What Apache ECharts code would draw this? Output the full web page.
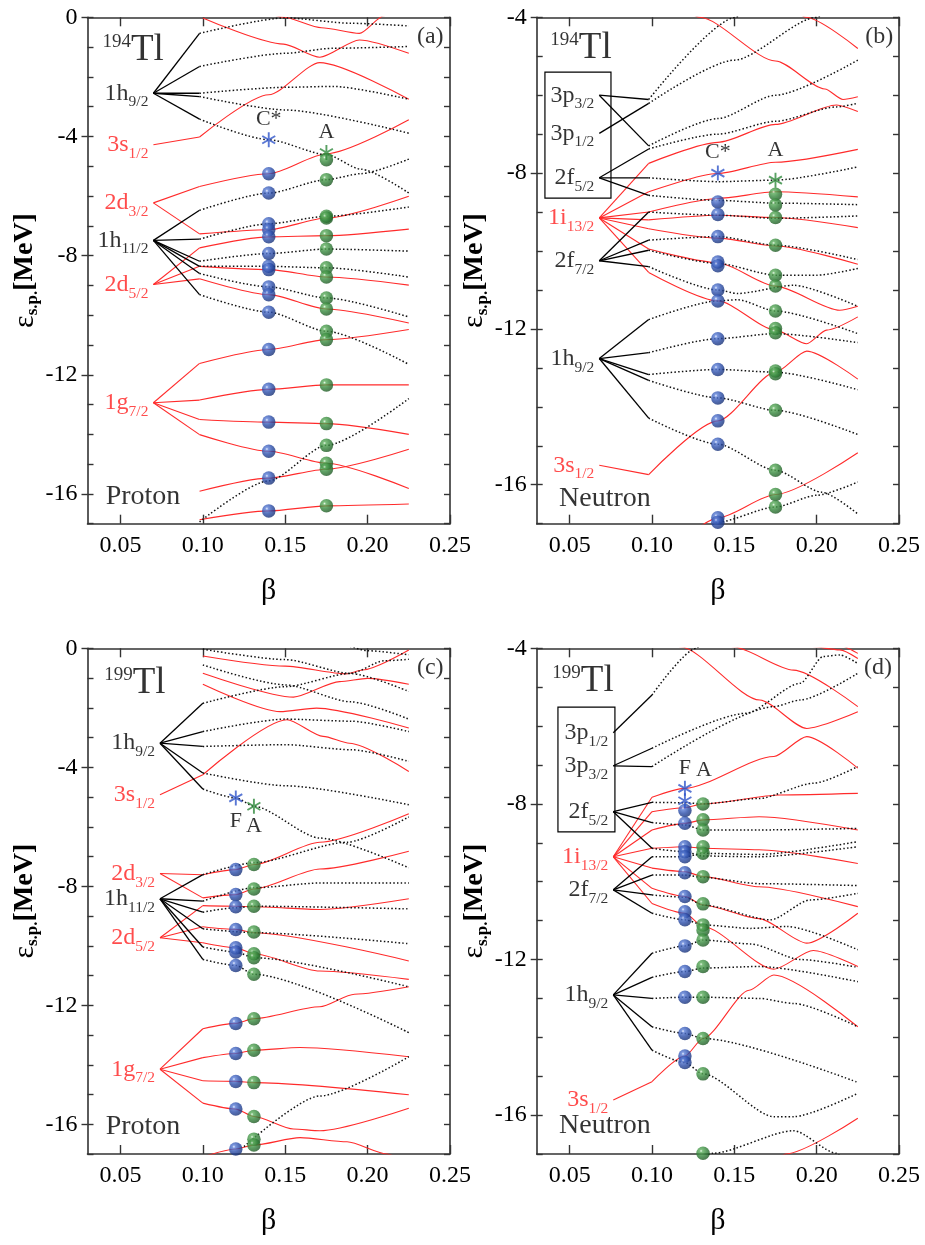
<!DOCTYPE html>
<html>
<head>
<meta charset="utf-8">
<script src="https://cdn.jsdelivr.net/npm/echarts@6/dist/echarts.min.js"></script>
<style>
html,body{margin:0;padding:0;background:#fff;}
#chart{width:925px;height:1245px;}
</style>
</head>
<body>
<div id="chart"></div>
<script>
// ---------------- axis ticks ----------------
const xTicks = [0.05, 0.10, 0.15, 0.20, 0.25];
const yTicksProton = [0, -4, -8, -12, -16];
const yTicksNeutron = [-4, -8, -12, -16];

// ---------------- (a) 194Tl, protons ----------------
const a_ballBeta = [0.14, 0.175];
const a_anchor = 0.07;
const a_levels = ['1h9/2', '3s1/2', '2d3/2', '1h11/2', '2d5/2', '1g7/2'];
const a_levelE = [-2.55, -4.28, -6.23, -7.49, -8.97, -12.94];
const a_pos = [
  [[0.07,-4.28],[0.098,-4.02],[0.14,-2.6],[0.171,-1.52],[0.225,-2.75]],
  [[0.1,-0.02],[0.149,-0.9],[0.171,-1.34],[0.195,-0.76],[0.225,-1.21]],
  [[0.13,0.45],[0.149,0.0],[0.172,-0.35],[0.195,-0.54],[0.21,0.05],[0.215,0.3]],
  [[0.07,-6.23],[0.098,-5.68],[0.14,-5.25],[0.175,-4.58],[0.225,-3.44]],
  [[0.07,-6.23],[0.098,-7.27],[0.14,-7.13],[0.175,-6.74],[0.225,-6.01]],
  [[0.07,-8.97],[0.098,-7.74],[0.14,-7.37],[0.175,-7.33],[0.225,-7.11]],
  [[0.07,-8.97],[0.098,-8.36],[0.14,-8.47],[0.175,-8.72],[0.225,-8.99]],
  [[0.07,-8.97],[0.098,-8.78],[0.14,-9.31],[0.175,-9.79],[0.225,-10.26]],
  [[0.07,-12.94],[0.098,-11.62],[0.14,-11.15],[0.175,-10.82],[0.225,-10.48]],
  [[0.07,-12.94],[0.098,-12.85],[0.14,-12.49],[0.175,-12.34],[0.225,-12.34]],
  [[0.07,-12.94],[0.098,-13.50],[0.14,-13.59],[0.175,-13.64],[0.225,-14.0]],
  [[0.07,-12.94],[0.098,-14.01],[0.14,-14.57],[0.175,-14.97],[0.225,-15.82]],
  [[0.098,-15.91],[0.14,-15.47],[0.175,-15.17],[0.225,-14.50]],
  [[0.098,-16.87],[0.14,-16.57],[0.175,-16.40],[0.225,-16.34]]
];
const a_neg = [
  [[0.07,-2.55],[0.098,-0.54],[0.15,-0.02],[0.19,-0.2],[0.225,-0.29]],
  [[0.07,-2.55],[0.098,-1.65],[0.15,-1.21],[0.179,-1.04],[0.225,-0.98]],
  [[0.07,-2.55],[0.098,-2.55],[0.15,-2.35],[0.179,-2.32],[0.225,-2.75]],
  [[0.07,-2.55],[0.098,-2.66],[0.15,-3.11],[0.225,-3.89]],
  [[0.07,-2.55],[0.098,-3.42],[0.14,-4.11],[0.175,-4.61],[0.196,-5.10],[0.225,-5.90]],
  [[0.07,-7.49],[0.098,-6.48],[0.14,-5.90],[0.175,-5.45],[0.196,-5.25],[0.225,-4.76]],
  [[0.07,-7.49],[0.098,-7.45],[0.14,-6.93],[0.175,-6.68],[0.225,-6.37]],
  [[0.07,-7.49],[0.098,-8.19],[0.14,-7.93],[0.175,-7.78],[0.225,-7.85]],
  [[0.07,-7.49],[0.098,-8.36],[0.14,-8.36],[0.175,-8.41],[0.225,-8.72]],
  [[0.07,-7.49],[0.098,-8.60],[0.14,-9.05],[0.175,-9.42],[0.225,-10.06]],
  [[0.07,-7.49],[0.098,-9.31],[0.14,-9.90],[0.175,-10.54],[0.225,-11.65]],
  [[0.098,-16.94],[0.14,-15.56],[0.175,-14.37],[0.225,-12.80]]
];
const a_blue = [-5.25,-5.90,-6.93,-7.13,-7.37,-7.93,-8.36,-8.47,-9.05,-9.31,-9.90,-11.15,-12.49,-13.59,-14.57,-15.47,-16.57];
const a_green = [-4.78,-5.45,-6.68,-6.74,-7.33,-7.78,-8.41,-8.72,-9.42,-9.79,-10.54,-10.82,-12.34,-13.64,-14.37,-14.97,-15.17,-16.40];
const a_stars = [[0.14,-4.11],[0.175,-4.54]];
const a_starNames = ['C*', 'A'];

// ---------------- (b) 194Tl, neutrons ----------------
const b_ballBeta = [0.14, 0.175];
const b_anchor = 0.068;
const b_levels = ['3p3/2', '3p1/2', '2f5/2', '1i13/2', '2f7/2', '1h9/2', '3s1/2'];
const b_levelE = [-6.0, -6.98, -8.12, -9.15, -10.25, -12.76, -15.5];
const b_pos = [
  [[0.12,-3.78],[0.129,-4.0],[0.175,-5.12],[0.205,-5.84],[0.216,-6.11],[0.225,-6.04]],
  [[0.185,-3.7],[0.1935,-4.0],[0.225,-4.80]],
  [[0.068,-9.15],[0.098,-7.75],[0.14,-7.21],[0.175,-6.75],[0.212,-6.25],[0.225,-6.42]],
  [[0.068,-9.15],[0.098,-8.48],[0.14,-8.01],[0.175,-7.72],[0.225,-7.39]],
  [[0.068,-9.15],[0.098,-9.0],[0.14,-8.65],[0.175,-8.48],[0.225,-8.61]],
  [[0.068,-9.15],[0.098,-9.2],[0.14,-9.08],[0.175,-9.14],[0.225,-9.40]],
  [[0.068,-9.15],[0.098,-9.43],[0.14,-9.67],[0.175,-9.87],[0.225,-10.34]],
  [[0.068,-9.15],[0.098,-9.95],[0.14,-10.3],[0.175,-10.9],[0.214,-11.52],[0.225,-11.42]],
  [[0.068,-9.15],[0.098,-10.55],[0.14,-11.28],[0.175,-12.03],[0.194,-12.38],[0.206,-12.03],[0.225,-11.69]],
  [[0.068,-15.5],[0.098,-15.74],[0.14,-14.36],[0.175,-13.11],[0.194,-12.57],[0.225,-13.29]],
  [[0.125,-17.2],[0.14,-16.85],[0.175,-16.25],[0.225,-15.18]]
];
const b_neg = [
  [[0.068,-6.0],[0.098,-6.11],[0.151,-4.0],[0.16,-3.6]],
  [[0.068,-6.98],[0.098,-6.21],[0.15,-5.1],[0.2,-4.0],[0.21,-3.75]],
  [[0.068,-6.0],[0.098,-7.30],[0.14,-6.6],[0.175,-6.0],[0.225,-5.10]],
  [[0.068,-8.12],[0.098,-7.38],[0.14,-7.0],[0.175,-6.67],[0.212,-6.3],[0.225,-6.21]],
  [[0.068,-8.12],[0.098,-8.12],[0.14,-8.22],[0.175,-8.18],[0.225,-7.84]],
  [[0.068,-8.12],[0.098,-8.57],[0.14,-8.70],[0.175,-8.77],[0.225,-8.81]],
  [[0.068,-10.25],[0.098,-9.0],[0.14,-9.08],[0.175,-9.16],[0.225,-9.10]],
  [[0.068,-10.25],[0.098,-9.72],[0.14,-9.63],[0.175,-9.85],[0.225,-10.22]],
  [[0.068,-10.25],[0.098,-9.98],[0.14,-10.32],[0.175,-10.62],[0.2,-10.62],[0.225,-10.45]],
  [[0.068,-10.25],[0.098,-10.4],[0.14,-11.0],[0.152,-11.09],[0.186,-10.88],[0.225,-11.42]],
  [[0.068,-12.76],[0.098,-11.76],[0.14,-11.28],[0.152,-11.25],[0.175,-11.54],[0.225,-12.12]],
  [[0.068,-12.76],[0.098,-12.61],[0.14,-12.25],[0.175,-12.12],[0.225,-12.35]],
  [[0.068,-12.76],[0.098,-13.17],[0.14,-13.04],[0.175,-13.11],[0.225,-13.56]],
  [[0.068,-12.76],[0.098,-13.32],[0.14,-13.77],[0.175,-14.09],[0.225,-14.71]],
  [[0.068,-12.76],[0.098,-14.29],[0.14,-14.96],[0.175,-15.63],[0.203,-16.19],[0.225,-16.75]],
  [[0.135,-17.1],[0.14,-16.96],[0.175,-16.57],[0.2,-16.27],[0.225,-15.93]]
];
const b_blue = [-8.74,-9.06,-9.63,-10.28,-10.38,-11.0,-11.28,-12.25,-13.04,-13.77,-14.36,-14.96,-16.85,-16.96];
const b_green = [-8.54,-8.82,-9.14,-9.85,-10.62,-10.90,-11.54,-11.99,-12.10,-13.08,-13.15,-14.09,-15.63,-16.25,-16.57];
const b_stars = [[0.14,-8.0],[0.175,-8.18]];
const b_starNames = ['C*', 'A'];

// ---------------- (c) 199Tl, protons ----------------
const c_ballBeta = [0.12, 0.131];
const c_anchor = 0.074;
const c_levels = ['1h9/2', '3s1/2', '2d3/2', '1h11/2', '2d5/2', '1g7/2'];
const c_levelE = [-3.19, -4.92, -7.57, -8.42, -9.73, -14.15];
const c_pos = [
  [[0.1,-0.26],[0.15,-0.6],[0.187,-0.86],[0.197,-0.73],[0.225,-0.06]],
  [[0.1,-0.84],[0.155,-1.64],[0.183,-1.12],[0.2,-1.01],[0.225,-1.21]],
  [[0.1,-1.21],[0.147,-2.13],[0.169,-2.01],[0.225,-2.68]],
  [[0.074,-4.92],[0.1,-4.25],[0.151,-2.40],[0.173,-2.96],[0.189,-3.19],[0.225,-4.14]],
  [[0.074,-7.57],[0.1,-7.61],[0.12,-7.44],[0.131,-7.27],[0.171,-6.52],[0.225,-5.56]],
  [[0.074,-7.57],[0.1,-8.39],[0.12,-8.28],[0.131,-8.09],[0.171,-7.42],[0.225,-6.82]],
  [[0.074,-9.73],[0.1,-8.65],[0.12,-8.67],[0.131,-8.69],[0.171,-8.78],[0.225,-8.42]],
  [[0.074,-9.73],[0.1,-9.36],[0.12,-9.45],[0.131,-9.56],[0.225,-10.51]],
  [[0.074,-9.73],[0.1,-9.90],[0.12,-10.07],[0.131,-10.27],[0.171,-10.85],[0.225,-11.13]],
  [[0.074,-14.15],[0.1,-12.79],[0.12,-12.61],[0.131,-12.45],[0.171,-12.05],[0.192,-11.63],[0.225,-11.38]],
  [[0.074,-14.15],[0.1,-13.76],[0.12,-13.62],[0.131,-13.51],[0.159,-13.42],[0.225,-13.73]],
  [[0.074,-14.15],[0.1,-14.54],[0.12,-14.56],[0.131,-14.60],[0.225,-15.01]],
  [[0.074,-14.15],[0.1,-15.29],[0.12,-15.49],[0.131,-15.74],[0.155,-16.16],[0.171,-16.22],[0.225,-15.46]],
  [[0.095,-17.2],[0.12,-16.83],[0.131,-16.70],[0.159,-16.45],[0.1875,-16.59],[0.212,-17.0],[0.22,-17.2]]
];
const c_neg = [
  [[0.1,-0.03],[0.15,-0.38],[0.19,-0.85],[0.225,-1.45]],
  [[0.1,-0.56],[0.15,-1.23],[0.19,-1.8],[0.225,-2.38]],
  [[0.185,0.15],[0.2,-0.08],[0.225,-0.22]],
  [[0.074,-3.19],[0.1,-1.85],[0.15,-1.29],[0.19,-0.84],[0.21,-0.42],[0.225,-0.37]],
  [[0.074,-3.19],[0.1,-2.8],[0.15,-2.38],[0.19,-2.45],[0.225,-2.8]],
  [[0.074,-3.19],[0.1,-3.30],[0.15,-3.24],[0.19,-3.41],[0.225,-3.80]],
  [[0.074,-3.19],[0.1,-4.19],[0.15,-4.62],[0.225,-5.26]],
  [[0.074,-3.19],[0.1,-4.73],[0.12,-5.03],[0.131,-5.31],[0.171,-6.38],[0.225,-7.38]],
  [[0.074,-8.42],[0.1,-7.61],[0.131,-7.21],[0.1875,-6.52],[0.225,-5.67]],
  [[0.074,-8.42],[0.1,-8.50],[0.131,-8.05],[0.171,-7.89],[0.225,-7.89]],
  [[0.074,-8.42],[0.1,-8.87],[0.12,-8.72],[0.131,-8.67],[0.225,-8.76]],
  [[0.074,-8.42],[0.1,-9.43],[0.131,-9.56],[0.225,-9.93]],
  [[0.074,-8.42],[0.1,-10.04],[0.12,-10.21],[0.131,-10.40],[0.225,-11.38]],
  [[0.074,-8.42],[0.1,-10.46],[0.12,-10.66],[0.131,-10.96],[0.225,-12.92]],
  [[0.125,-16.75],[0.171,-15.05],[0.225,-13.73]]
];
const c_blue = [-7.44,-8.28,-8.69,-9.45,-10.07,-10.21,-10.66,-12.61,-13.62,-14.56,-15.49,-16.83];
const c_green = [-7.27,-8.09,-8.67,-9.54,-10.27,-10.40,-10.96,-12.45,-13.51,-14.60,-15.74,-16.50,-16.70];
const c_stars = [[0.12,-5.03],[0.131,-5.31]];
const c_starNames = ['F', 'A'];

// ---------------- (d) 199Tl, neutrons ----------------
const d_ballBeta = [0.12, 0.131];
const d_anchor = 0.0765;
const d_levels = ['3p1/2', '3p3/2', '2f5/2', '1i13/2', '2f7/2', '1h9/2', '3s1/2'];
const d_levelE = [-6.17, -7.02, -8.2, -9.36, -10.21, -12.91, -15.61];
const d_pos = [
  [[0.113,-3.85],[0.117,-3.96],[0.1655,-5.33],[0.194,-6.06],[0.225,-5.63]],
  [[0.145,-3.85],[0.149,-3.96],[0.186,-4.56],[0.225,-5.50]],
  [[0.19,-3.8],[0.196,-3.95],[0.214,-4.04],[0.225,-4.26]],
  [[0.208,-3.8],[0.212,-3.9],[0.225,-4.13]],
  [[0.0765,-9.36],[0.1,-7.83],[0.12,-7.6],[0.174,-6.78],[0.194,-6.27],[0.225,-7.08]],
  [[0.0765,-9.36],[0.1,-8.2],[0.12,-8.1],[0.131,-8.0],[0.178,-7.77],[0.225,-7.73]],
  [[0.0765,-9.36],[0.1,-8.67],[0.12,-8.5],[0.131,-8.41],[0.165,-8.33],[0.225,-8.67]],
  [[0.0765,-9.36],[0.1,-9.14],[0.12,-9.1],[0.131,-9.14],[0.165,-9.18],[0.225,-9.53]],
  [[0.0765,-9.36],[0.1,-9.65],[0.12,-9.74],[0.131,-9.87],[0.165,-10.13],[0.225,-10.64]],
  [[0.0765,-9.36],[0.1,-10.17],[0.12,-10.38],[0.131,-10.6],[0.165,-10.95],[0.194,-11.58],[0.225,-10.81]],
  [[0.0765,-9.36],[0.1,-10.56],[0.12,-10.81],[0.131,-11.15],[0.174,-12.25],[0.198,-11.77],[0.225,-12.18]],
  [[0.0765,-15.61],[0.1,-15.14],[0.12,-14.48],[0.131,-14.03],[0.159,-12.79],[0.174,-12.4],[0.225,-13.73]],
  [[0.178,-17.1],[0.181,-17.0],[0.225,-16.08]]
];
const d_neg = [
  [[0.0765,-6.17],[0.1,-5.2],[0.127,-4.0],[0.131,-3.8]],
  [[0.0765,-7.02],[0.1,-6.57],[0.157,-5.67],[0.19,-4.90],[0.204,-4.21],[0.214,-4.17],[0.225,-4.39]],
  [[0.0765,-7.02],[0.1,-7.04],[0.174,-5.50],[0.19,-5.33],[0.225,-4.64]],
  [[0.0765,-8.2],[0.1,-7.96],[0.12,-7.97],[0.131,-8.0],[0.165,-7.86],[0.198,-7.47],[0.225,-7.04]],
  [[0.0765,-8.2],[0.1,-8.48],[0.12,-8.54],[0.131,-8.67],[0.165,-8.67],[0.225,-8.63]],
  [[0.0765,-8.2],[0.1,-9.14],[0.12,-9.23],[0.131,-9.34],[0.165,-9.36],[0.225,-9.1]],
  [[0.0765,-10.21],[0.1,-9.36],[0.12,-9.36],[0.131,-9.27],[0.165,-9.3],[0.225,-8.97]],
  [[0.0765,-10.21],[0.1,-9.83],[0.12,-9.83],[0.131,-9.89],[0.165,-10.05],[0.225,-10.1]],
  [[0.0765,-10.21],[0.1,-10.34],[0.12,-10.4],[0.131,-10.6],[0.172,-10.98],[0.196,-10.47],[0.225,-10.3]],
  [[0.0765,-10.21],[0.1,-10.81],[0.12,-10.98],[0.131,-11.11],[0.16,-11.2],[0.182,-11.15],[0.225,-11.75]],
  [[0.0765,-12.91],[0.1,-11.84],[0.12,-11.65],[0.131,-11.5],[0.16,-11.6],[0.19,-12.0],[0.225,-12.2]],
  [[0.0765,-12.91],[0.1,-12.46],[0.12,-12.31],[0.131,-12.22],[0.165,-12.18],[0.225,-12.57]],
  [[0.0765,-12.91],[0.1,-13.0],[0.12,-12.97],[0.131,-12.97],[0.165,-13.0],[0.186,-13.13],[0.225,-13.73]],
  [[0.0765,-12.91],[0.1,-13.73],[0.12,-13.90],[0.131,-14.03],[0.225,-15.16]],
  [[0.0765,-12.91],[0.1,-14.33],[0.12,-14.65],[0.131,-14.94],[0.174,-16.04],[0.186,-16.04],[0.225,-15.44]],
  [[0.13,-17.1],[0.137,-16.98],[0.186,-16.40],[0.212,-16.98],[0.215,-17.1]]
];
const d_blue = [-8.17,-8.50,-9.10,-9.23,-9.36,-9.77,-10.38,-10.77,-10.98,-11.65,-12.31,-12.97,-13.90,-14.48,-14.65];
const d_green = [-8.0,-8.41,-8.67,-9.10,-9.27,-9.87,-10.57,-11.11,-11.24,-11.50,-12.18,-12.97,-14.03,-14.94,-16.98];
const d_stars = [[0.12,-7.60],[0.12,-7.92]];
const d_starNames = ['F', ''];

// ---------------- styling ----------------
const SERIF = "'Liberation Serif','DejaVu Serif','Times New Roman',serif";
const RED = '#ff2b2b';
const RED_TXT = '#ff1f1f';
const FRAME = '#333';
const BLUE_STAR = '#2f55c9';
const GREEN_STAR = '#2f8a3c';

const blueBall = {type:'radial', x:0.36, y:0.33, r:0.72, colorStops:[
  {offset:0, color:'#e4eaff'}, {offset:0.16, color:'#5b7ed6'}, {offset:0.55, color:'#2a4ca8'}, {offset:1, color:'#162f72'}]};
const greenBall = {type:'radial', x:0.36, y:0.33, r:0.72, colorStops:[
  {offset:0, color:'#e2f5e2'}, {offset:0.16, color:'#5cad5c'}, {offset:0.55, color:'#33843a'}, {offset:1, color:'#1d5522'}]};

const ASTERISK = 'path://M10,0L10,20M1.34,5L18.66,15M1.34,15L18.66,5';

// panel layout (pixel boxes of the four plot areas)
const panels = [
  {rect:[87.5, 17.3, 362.5, 506.4], ymin:-17, ymax:0, yLabels:yTicksProton,
   tag:'(a)', mass:'194', kind:'Proton', anchor:a_anchor, levels:a_levels, levelE:a_levelE,
   pos:a_pos, neg:a_neg, blue:a_blue, green:a_green, ballBeta:a_ballBeta,
   stars:a_stars, starNames:a_starNames, starPos:['top','top'], starDist:[1,1],
   tagAt:[0.238,-0.66], nucAt:[0.0577,-1.1], kindAt:[0.0637,-16.08]},
  {rect:[536.7, 17.3, 362.3, 506.4], ymin:-17, ymax:-4, yLabels:yTicksNeutron,
   tag:'(b)', mass:'194', kind:'Neutron', anchor:b_anchor, levels:b_levels, levelE:b_levelE,
   pos:b_pos, neg:b_neg, blue:b_blue, green:b_green, ballBeta:b_ballBeta,
   stars:b_stars, starNames:b_starNames, starPos:['top','top'], starDist:[1,10],
   tagAt:[0.238,-4.51], nucAt:[0.0569,-4.79], kindAt:[0.0714,-16.35],
   box:[[0.035,-5.405],[0.0751,-8.64]]},
  {rect:[87.5, 648.3, 362.5, 505.7], ymin:-17, ymax:0, yLabels:yTicksProton,
   tag:'(c)', mass:'199', kind:'Proton', anchor:c_anchor, levels:c_levels, levelE:c_levelE,
   pos:c_pos, neg:c_neg, blue:c_blue, green:c_green, ballBeta:c_ballBeta,
   stars:c_stars, starNames:c_starNames, starPos:['bottom','bottom'], starDist:[4,1],
   tagAt:[0.238,-0.66], nucAt:[0.0588,-1.16], kindAt:[0.0637,-16.07]},
  {rect:[536.7, 648.3, 362.3, 505.7], ymin:-17, ymax:-4, yLabels:yTicksNeutron,
   tag:'(d)', mass:'199', kind:'Neutron', anchor:d_anchor, levels:d_levels, levelE:d_levelE,
   pos:d_pos, neg:d_neg, blue:d_blue, green:d_green, ballBeta:d_ballBeta,
   stars:d_stars, starNames:d_starNames, starPos:['top','top'], starDist:[1,1],
   tagAt:[0.2373,-4.5], nucAt:[0.0581,-4.84], kindAt:[0.0714,-16.26],
   box:[[0.0429,-5.51],[0.0775,-8.72]], extraA:[0.1316,-7.13]}
];

function range(a, b){ const r=[]; for(let v=a; v<=b; v++) r.push(v); return r; }
function levelColor(name){ const l = 'spdfghi'.indexOf(name.match(/[a-z]/)[0]); return l % 2 === 0 ? RED_TXT : '#000'; }
function levelRich(name){ const m = name.match(/^(\d+[a-z])(.*)$/); return '{m|' + m[1] + '}{s|' + m[2] + '}'; }

const grids = [], xAxes = [], yAxes = [], series = [];
const outerTicks = [];

panels.forEach((p, gi) => {
  const [l, t, w, h] = p.rect;
  grids.push({left:l, top:t, width:w, height:h, containLabel:false});
  const yTickVals = range(p.ymin, p.ymax);
  // bottom / top x axes
  xAxes.push({gridIndex:gi, type:'value', min:0.03, max:0.25, position:'bottom',
    name:'β', nameLocation:'middle', nameGap:52,
    nameTextStyle:{fontFamily:SERIF, fontSize:30, color:'#000'},
    axisLine:{onZero:false, lineStyle:{color:FRAME, width:1.6}},
    axisTick:{inside:true, length:9, customValues:xTicks, lineStyle:{color:FRAME, width:1.4}},
    axisLabel:{customValues:xTicks, formatter:v => v.toFixed(2), fontFamily:SERIF, fontSize:24, color:'#000', margin:10},
    splitLine:{show:false}});
  xAxes.push({gridIndex:gi, type:'value', min:0.03, max:0.25, position:'top',
    axisLine:{onZero:false, lineStyle:{color:FRAME, width:1.6}},
    axisTick:{inside:true, length:9, customValues:xTicks, lineStyle:{color:FRAME, width:1.4}},
    axisLabel:{show:false}, splitLine:{show:false}});
  // left / right y axes
  yAxes.push({gridIndex:gi, type:'value', min:p.ymin, max:p.ymax, position:'left',
    name:'{e|ε}{s|s.p.}{u|[MeV]}', nameLocation:'middle', nameRotate:90, nameGap:44,
    nameTextStyle:{rich:{
      e:{fontFamily:SERIF, fontSize:30, color:'#000'},
      s:{fontFamily:SERIF, fontSize:17, fontWeight:'bold', color:'#000', padding:[16,0,0,0]},
      u:{fontFamily:SERIF, fontSize:28, fontWeight:'bold', color:'#000'}}},
    axisLine:{onZero:false, lineStyle:{color:FRAME, width:1.6}},
    axisTick:{inside:true, length:6, customValues:yTickVals, lineStyle:{color:FRAME, width:1.4}},
    axisLabel:{customValues:p.yLabels, formatter:v => String(v), fontFamily:SERIF, fontSize:24, color:'#000', margin:10},
    splitLine:{show:false}});
  yAxes.push({gridIndex:gi, type:'value', min:p.ymin, max:p.ymax, position:'right',
    axisLine:{onZero:false, lineStyle:{color:FRAME, width:1.6}},
    axisTick:{inside:true, length:6, customValues:yTickVals, lineStyle:{color:FRAME, width:1.4}},
    axisLabel:{show:false}, splitLine:{show:false}});
  // labelled energies get a tick that also pokes outside the frame
  outerTicks.push({gridIndex:gi, type:'value', min:p.ymin, max:p.ymax, position:'left',
    axisLine:{show:false}, axisLabel:{show:false}, splitLine:{show:false},
    axisTick:{inside:false, length:6, customValues:p.yLabels, lineStyle:{color:FRAME, width:1.4}}});

  const xi = 2*gi, yi = 2*gi;
  const base = {xAxisIndex:xi, yAxisIndex:yi, silent:true, animation:false};
  const line = (pts, style, smooth, z) => Object.assign({type:'line', data:pts, symbol:'none', clip:true,
    smooth:smooth, smoothMonotone:'x', lineStyle:style, z:z}, base);

  // positive-parity (red) curves; the first segment from the spherical level is straight
  p.pos.forEach(c => {
    let rest = c;
    if (c[0][0] < 0.09) { series.push(line([c[0], c[1]], {color:RED, width:1.1}, false, 2)); rest = c.slice(1); }
    series.push(line(rest, {color:RED, width:1.1}, 0.25, 2));
  });
  // negative-parity curves: solid connector, dotted trajectory
  p.neg.forEach(c => {
    let rest = c;
    if (c[0][0] < 0.09) { series.push(line([c[0], c[1]], {color:'#000', width:1.3}, false, 2)); rest = c.slice(1); }
    series.push(line(rest, {color:'#111', width:1.5, type:[1.5, 2.2]}, 0.25, 2));
  });

  // occupied orbitals of the two configurations
  series.push(Object.assign({type:'scatter', symbol:'circle', symbolSize:13.5, z:5,
    itemStyle:{color:blueBall}, data:p.blue.map(e => [p.ballBeta[0], e])}, base));
  series.push(Object.assign({type:'scatter', symbol:'circle', symbolSize:13.5, z:5,
    itemStyle:{color:greenBall}, data:p.green.map(e => [p.ballBeta[1], e])}, base));

  // Fermi-level asterisks
  const starCols = p.stars.map(s => (s[0] === p.ballBeta[0] ? BLUE_STAR : GREEN_STAR));
  series.push(Object.assign({type:'scatter', symbol:ASTERISK, symbolSize:15, symbolKeepAspect:true, z:6,
    data:p.stars.map((s, i) => ({value:s,
      itemStyle:{color:'rgba(0,0,0,0)', borderColor:starCols[i], borderWidth:1.9},
      label:{show:p.starNames[i] !== '', formatter:p.starNames[i], position:p.starPos[i], distance:p.starDist[i],
        fontFamily:SERIF, fontSize:22, color:'#000'}}))}, base));

  // text annotations
  const txt = [];
  p.levels.forEach((name, i) => {
    const col = levelColor(name);
    txt.push({value:[p.anchor, p.levelE[i]], label:{show:true, position:'left', distance:5,
      formatter:levelRich(name), rich:{
        m:{fontFamily:SERIF, fontSize:24, color:col},
        s:{fontFamily:SERIF, fontSize:15.5, color:col, padding:[18,0,0,0]}}}});
  });
  txt.push({value:p.nucAt, label:{show:true, position:'inside', formatter:'{a|' + p.mass + '}{b|Tl}', rich:{
    a:{fontFamily:SERIF, fontSize:19, color:'#000', padding:[0,0,16,0]},
    b:{fontFamily:SERIF, fontSize:37, color:'#000'}}}});
  txt.push({value:p.tagAt, label:{show:true, position:'inside', formatter:p.tag, fontFamily:SERIF, fontSize:24, color:'#000'}});
  txt.push({value:p.kindAt, label:{show:true, position:'inside', formatter:p.kind, fontFamily:SERIF, fontSize:28, color:'#000'}});
  if (p.extraA) txt.push({value:p.extraA, label:{show:true, position:'inside', formatter:'A', fontFamily:SERIF, fontSize:22, color:'#000'}});

  const ts = Object.assign({type:'scatter', symbolSize:0, z:8, clip:false, data:txt}, base);
  if (p.box) ts.markArea = {silent:true, itemStyle:{color:'rgba(0,0,0,0)', borderColor:'#000', borderWidth:1.2},
    data:[[{coord:p.box[0]}, {coord:p.box[1]}]]};
  series.push(ts);
});

const chart = echarts.init(document.getElementById('chart'), null, {renderer:'canvas'});
chart.setOption({
  backgroundColor:'#fff',
  animation:false,
  grid:grids, xAxis:xAxes, yAxis:yAxes.concat(outerTicks), series:series
});
</script>
</body>
</html>
